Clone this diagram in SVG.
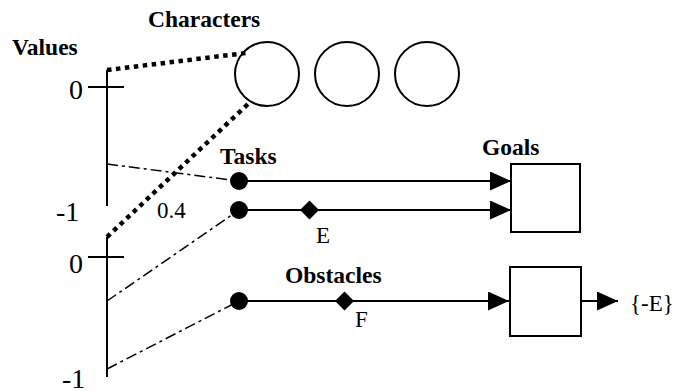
<svg xmlns="http://www.w3.org/2000/svg" width="683" height="391" viewBox="0 0 683 391">
<style>
text{font-family:'Liberation Serif','Times New Roman','DejaVu Serif',serif;fill:#000}
.b{font-weight:bold;font-size:23.5px}
.n{font-size:23px}
.ax{font-size:28px}
.s{stroke:#000;stroke-width:2;fill:none}
.dot{stroke:#000;stroke-width:4.5;stroke-dasharray:4.5 4.5;fill:none}
.dd{stroke:#000;stroke-width:1.5;stroke-dasharray:11 4 3 4;fill:none}
</style>
<defs>
<marker id="ah" markerUnits="userSpaceOnUse" markerWidth="22" markerHeight="20" refX="21" refY="9.5" orient="auto">
<path d="M0,0 L21,9.5 L0,19 z" fill="#000"/>
</marker>
</defs>
<g id="labels">
<text class="b" x="148" y="27">Characters</text>
<text class="b" x="12" y="55">Values</text>
<text class="b" x="220" y="164">Tasks</text>
<text class="b" x="482" y="155">Goals</text>
<text class="b" x="285" y="283">Obstacles</text>
</g>
<g id="axis1">
<line class="s" x1="107" y1="70" x2="107" y2="206"/>
<line class="s" x1="88" y1="87" x2="124" y2="87"/>
<text class="ax" x="69" y="99">0</text>
<text class="ax" x="56" y="221">-1</text>
</g>
<g id="axis2">
<line class="s" x1="107" y1="237" x2="107" y2="377"/>
<line class="s" x1="88" y1="257" x2="124" y2="257"/>
<text class="ax" x="69" y="273">0</text>
<text class="ax" x="62" y="388">-1</text>
</g>
<g id="characters">
<circle class="s" cx="267" cy="74" r="32"/>
<circle class="s" cx="347" cy="74" r="32"/>
<circle class="s" cx="427" cy="74" r="32"/>
</g>
<g id="goal1"><rect class="s" x="511" y="164" width="69" height="68"/></g>
<g id="goal2"><rect class="s" x="510" y="267" width="71" height="69"/></g>
<g id="connectors">
<line class="dot" x1="107" y1="70" x2="246" y2="53"/>
<line class="dot" x1="107" y1="237" x2="248" y2="104"/>
<line class="dd" x1="107" y1="164" x2="239" y2="181"/>
<line class="dd" x1="107" y1="301" x2="239" y2="210"/>
<line class="dd" x1="107" y1="369" x2="239" y2="301"/>
<line class="s" x1="239" y1="181" x2="511" y2="181" marker-end="url(#ah)"/>
<line class="s" x1="239" y1="210" x2="511" y2="210" marker-end="url(#ah)"/>
<line class="s" x1="239" y1="301" x2="509" y2="301" marker-end="url(#ah)"/>
<line class="s" x1="581" y1="301" x2="618" y2="301" marker-end="url(#ah)"/>
</g>
<g id="nodes">
<circle cx="239" cy="181" r="9" fill="#000"/>
<circle cx="239" cy="210" r="9" fill="#000"/>
<circle cx="239" cy="301" r="9" fill="#000"/>
<path d="M309.5,200.5 L319,210 L309.5,219.5 L300,210 z" fill="#000"/>
<path d="M344.5,291.5 L354,301 L344.5,310.5 L335,301 z" fill="#000"/>
</g>
<g id="texts">
<text class="n" x="157" y="218">0.4</text>
<text class="n" x="316" y="243">E</text>
<text class="n" x="355" y="327">F</text>
<text class="n" x="630" y="311">{-E}</text>
</g>
</svg>
